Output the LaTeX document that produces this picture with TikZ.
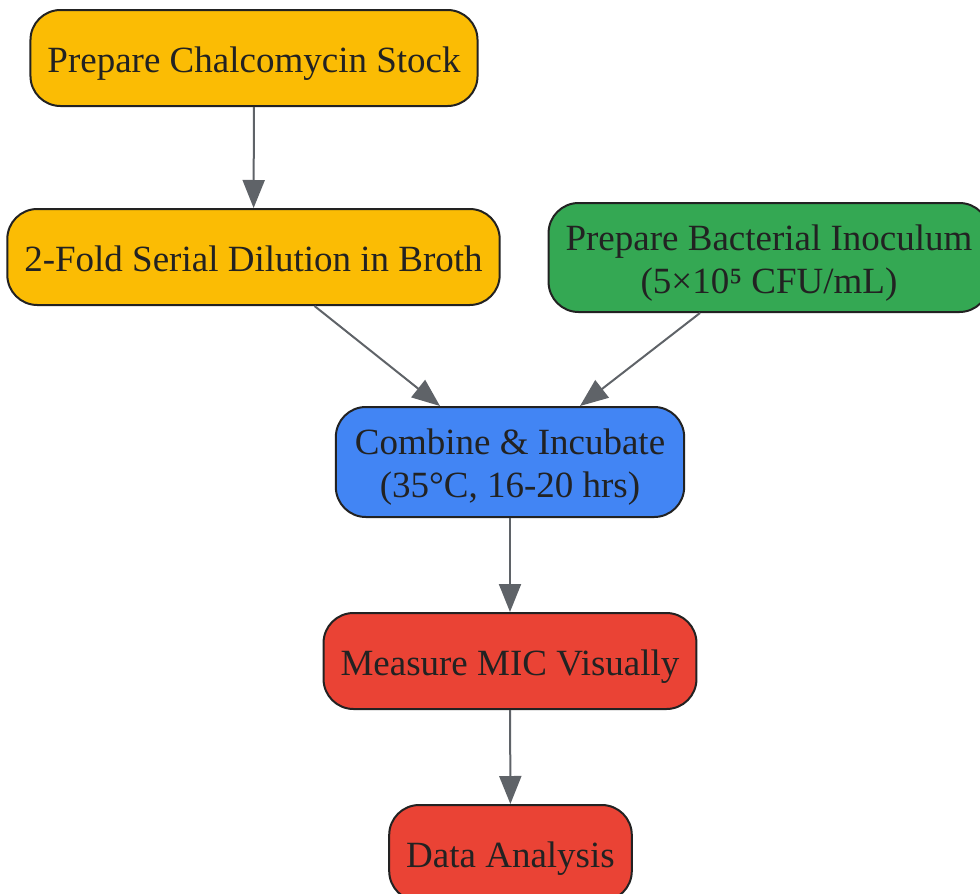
\documentclass[tikz,border=0pt]{standalone}
\usepackage{fontspec}
\setmainfont{Liberation Serif}
\usetikzlibrary{arrows.meta}

\definecolor{stockyellow}{HTML}{FBBC04}
\definecolor{inocgreen}{HTML}{34A853}
\definecolor{incblue}{HTML}{4285F4}
\definecolor{readred}{HTML}{EA4335}
\definecolor{edgegray}{HTML}{5F6368}
\definecolor{inkdark}{HTML}{222222}

\tikzset{
  stepbox/.style={draw=inkdark, line width=2pt, rounded corners=30pt,
    text=inkdark, align=center, inner xsep=17pt, minimum height=96pt,
    text height=37pt, text depth=8pt,
    font=\fontsize{37}{43}\selectfont},
  twoline/.style={minimum height=109pt, text height=79pt, text depth=8pt},
  flow/.style={draw=edgegray, line width=2pt,
    -{Triangle[length=28pt,width=22pt]}}
}

\begin{document}
\begin{tikzpicture}[x=1pt, y=-1pt]
% Fix the canvas size
\useasboundingbox (0,0) rectangle (980,894);

% Draw the boxes
\node[stepbox, fill=stockyellow] (stock) at (254,58) {Prepare Chalcomycin Stock};
\node[stepbox, fill=stockyellow] (dilution) at (253.5,257) {2-Fold Serial Dilution in Broth};
\node[stepbox, twoline, fill=inocgreen] (inoculum) at (769,257.5) {Prepare Bacterial Inoculum\\(5×10⁵ CFU/mL)};
\node[stepbox, twoline, fill=incblue, inner xsep=19pt, minimum height=110pt] (combine) at (510,462) {Combine \& Incubate\\(35°C, 16-20 hrs)};
\node[stepbox, fill=readred] (measure) at (510,661) {Measure MIC Visually};
\node[stepbox, fill=readred] (analysis) at (510.5,853) {Data Analysis};

% Connect them
\draw[flow] (stock) -- (dilution);
\draw[flow] ([xshift=61pt]dilution.south) -- ([xshift=-70pt]combine.north);
\draw[flow] ([xshift=-69pt]inoculum.south) -- ([xshift=70pt]combine.north);
\draw[flow] (combine) -- (measure);
\draw[flow] (measure) -- (analysis);
\end{tikzpicture}
\end{document}
